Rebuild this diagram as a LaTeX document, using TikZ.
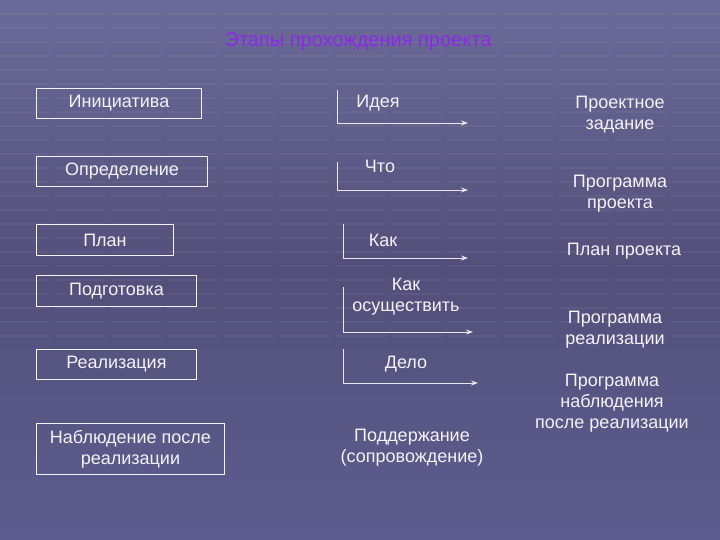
\documentclass[tikz,border=0pt]{standalone}
\usepackage{fontspec}
\setmainfont{Liberation Sans}
\usetikzlibrary{arrows.meta}
\definecolor{bgtop}{RGB}{108,106,152}
\definecolor{bgmid}{RGB}{82,80,122}
\definecolor{bgbot}{RGB}{94,92,142}
\definecolor{titlecol}{RGB}{140,40,235}
\definecolor{txt}{RGB}{242,242,248}
\tikzset{
  stagebox/.style={draw=txt, line width=0.9pt, text=txt, inner sep=0pt, anchor=north west, font=\fontsize{18}{21}\selectfont},
  lbl/.style={text=txt, align=center, font=\fontsize{18}{21}\selectfont},
  bracket/.style={draw=txt!90!gray, line width=0.9pt},
  arr/.style={bracket, -{Stealth[length=7pt,width=5pt]}}
}
\begin{document}
\begin{tikzpicture}[x=1pt,y=-1pt]
\useasboundingbox (0,0) rectangle (720,540);
\shade[top color=bgtop, bottom color=bgmid] (0,0) rectangle (720,270);
\shade[top color=bgmid, bottom color=bgbot] (0,270) rectangle (720,540);
\foreach \yy in {14,28,...,340} {
  \draw[white, opacity=0.05, line width=2pt, dash pattern=on 50pt off 6pt] (0,\yy) -- (720,\yy);
}
% title
\node[text=titlecol, font=\fontsize{20}{23}\selectfont] (title) at (358,42) {Этапы прохождения проекта};
% left column boxes
\node[stagebox, minimum width=165pt, minimum height=30pt] (b1) at (36,88) {Инициатива};
\node[stagebox, minimum width=171pt, minimum height=30pt] (b2) at (36,156) {Определение};
\node[stagebox, minimum width=137pt, minimum height=31pt] (b3) at (36,224) {План};
\node[stagebox, minimum width=160pt, minimum height=31pt] (b4) at (36,275) {Подготовка};
\node[stagebox, minimum width=160pt, minimum height=30pt] (b5) at (36,349) {Реализация};
\node[stagebox, minimum width=188pt, minimum height=51pt, align=center] (b6) at (36,423) {Наблюдение после\\реализации};
% middle column labels
\node[lbl] (m1) at (378,103) {Идея};
\node[lbl] (m2) at (380,166) {Что};
\node[lbl] (m3) at (383,240) {Как};
\node[lbl] (m4) at (406,297) {Как\\осуществить};
\node[lbl] (m5) at (406,364) {Дело};
\node[lbl] (m6) at (412,448) {Поддержание\\(сопровождение)};
% brackets
\coordinate (t1) at (337,90);  \coordinate (c1) at (337,123); \coordinate (e1) at (468,123);
\coordinate (t2) at (337,162); \coordinate (c2) at (337,190); \coordinate (e2) at (468,190);
\coordinate (t3) at (343,224); \coordinate (c3) at (343,258); \coordinate (e3) at (468,258);
\coordinate (t4) at (343,287); \coordinate (c4) at (343,332); \coordinate (e4) at (473,332);
\coordinate (t5) at (343,349); \coordinate (c5) at (343,383); \coordinate (e5) at (478,383);
\foreach \i in {1,...,5} {
  \draw[bracket] (t\i) -- (c\i);
  \draw[arr] (c\i) -- (e\i);
}
% right column
\node[lbl] (r1) at (620,115) {Проектное\\задание};
\node[lbl] (r2) at (620,194) {Программа\\проекта};
\node[lbl] (r3) at (624,251) {План проекта};
\node[lbl] (r4) at (615,330) {Программа\\реализации};
\node[lbl] (r5) at (612,403) {Программа\\наблюдения\\после реализации};
\end{tikzpicture}
\end{document}
